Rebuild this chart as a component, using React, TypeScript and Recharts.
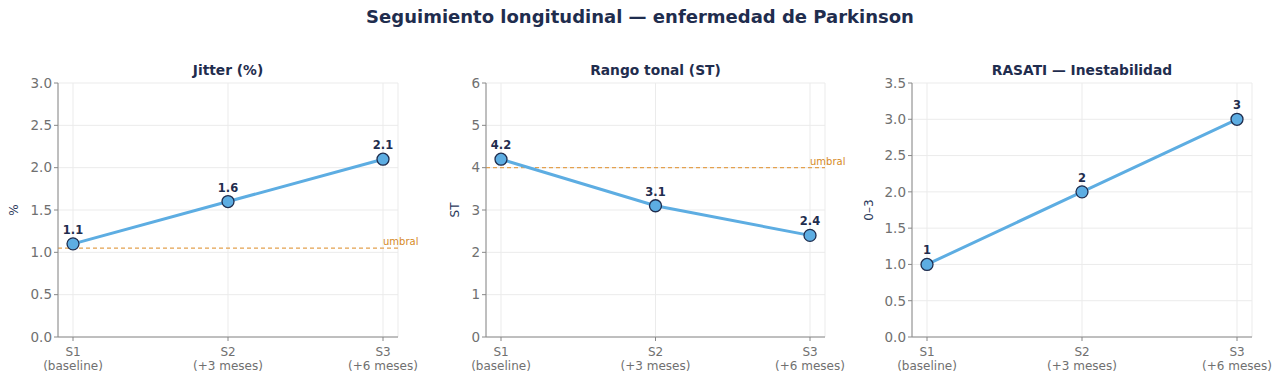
import React from 'react';
import { LineChart, Line, XAxis, YAxis, CartesianGrid, ReferenceLine, LabelList } from 'recharts';

const sessions = ['S1', 'S2', 'S3'];
const sessionNotes = ['(baseline)', '(+3 meses)', '(+6 meses)'];

const jitterValues = [1.1, 1.6, 2.1];
const rangoValues = [4.2, 3.1, 2.4];
const rasatiValues = [1, 2, 3];

const jitterTicks = [0, 0.5, 1, 1.5, 2, 2.5, 3];
const rangoTicks = [0, 1, 2, 3, 4, 5, 6];
const rasatiTicks = [0, 0.5, 1, 1.5, 2, 2.5, 3, 3.5];

const jitterUmbral = 1.05;
const rangoUmbral = 4;

const FONT = '"DejaVu Sans", Verdana, sans-serif';
const NAVY = '#1f2d4e';
const LINE = '#5dade2';
const ORANGE = '#e3a14f';

const SessionTick = (props: any) => {
  const { x, y, payload } = props;
  const i = sessions.indexOf(payload.value);
  return (
    <g transform={`translate(${x},${y})`}>
      <text textAnchor="middle" fill="#707070" fontSize={12} fontFamily={FONT}>
        <tspan x={0} dy={13}>{payload.value}</tspan>
        <tspan x={0} dy={14}>{sessionNotes[i]}</tspan>
      </text>
    </g>
  );
};

const umbralLabel = (props: any) => {
  const { viewBox } = props;
  return (
    <text
      x={viewBox.x + viewBox.width - 15}
      y={viewBox.y - 3}
      fill="#d68a1f"
      fontSize={10}
      fontFamily={FONT}
    >
      umbral
    </text>
  );
};

interface PanelProps {
  title: string;
  unit: string;
  values: number[];
  ticks: number[];
  domain: [number, number];
  decimals: number;
  umbral?: number;
  left: number;
  width: number;
  axisWidth: number;
  rightGap: number;
  labelX: number;
}

const Panel: React.FC<PanelProps> = ({ title, unit, values, ticks, domain, decimals, umbral, left, width, axisWidth, rightGap, labelX }) => {
  const data = sessions.map((s, i) => ({ session: s, value: values[i] }));
  return (
    <div style={{ position: 'absolute', left, top: 0, width, height: 380 }}>
      <div
        style={{
          position: 'absolute',
          top: 62,
          left: axisWidth,
          width: width - axisWidth - rightGap,
          textAlign: 'center',
          fontFamily: FONT,
          fontWeight: 'bold',
          fontSize: 13.8,
          color: NAVY,
        }}
      >
        {title}
      </div>
      <LineChart
        width={width}
        height={380}
        data={data}
        margin={{ top: 83, right: rightGap, bottom: 3, left: 0 }}
      >
        <CartesianGrid stroke="#ebebeb" />
        <XAxis
          dataKey="session"
          padding={{ left: 15, right: 15 }}
          height={40}
          tick={<SessionTick />}
          tickLine={{ stroke: '#888' }}
          axisLine={{ stroke: '#888' }}
          tickSize={4}
          interval={0}
        />
        <YAxis
          width={axisWidth}
          domain={domain}
          ticks={ticks}
          tickFormatter={(v: number) => v.toFixed(decimals)}
          tick={{ fill: '#707070', fontSize: 13.5, fontFamily: FONT }}
          tickLine={{ stroke: '#888' }}
          axisLine={{ stroke: '#888' }}
          tickSize={4}
          label={{
            value: unit,
            angle: -90,
            position: 'center',
            dx: labelX - axisWidth / 2,
            fill: '#2c3a5c',
            fontSize: 12,
            fontFamily: FONT,
          }}
        />
        {umbral !== undefined && (
          <ReferenceLine y={umbral} stroke={ORANGE} strokeDasharray="4 3" strokeWidth={1.2} label={umbralLabel} />
        )}
        <Line
          type="linear"
          dataKey="value"
          stroke={LINE}
          strokeWidth={3}
          dot={{ r: 6, fill: LINE, stroke: NAVY, strokeWidth: 1.3 }}
          isAnimationActive={false}
        >
          <LabelList
            dataKey="value"
            position="top"
            offset={10}
            fill={NAVY}
            fontSize={11.5}
            fontWeight="bold"
            fontFamily={FONT}
          />
        </Line>
      </LineChart>
    </div>
  );
};

export default function App() {
  return (
    <div style={{ position: 'absolute', left: 0, top: 0, width: 1280, height: 380, background: '#fff', overflow: 'hidden' }}>
      <div
        style={{
          position: 'absolute',
          top: 6,
          left: 0,
          width: 1280,
          textAlign: 'center',
          fontFamily: FONT,
          fontWeight: 'bold',
          fontSize: 18,
          color: NAVY,
        }}
      >
        Seguimiento longitudinal — enfermedad de Parkinson
      </div>
      <Panel title="Jitter (%)" unit="%" values={jitterValues} ticks={jitterTicks} domain={[0, 3]} decimals={1}
        umbral={jitterUmbral} left={0} width={430} axisWidth={58} rightGap={32} labelX={14} />
      <Panel title="Rango tonal (ST)" unit="ST" values={rangoValues} ticks={rangoTicks} domain={[0, 6]} decimals={0}
        umbral={rangoUmbral} left={430} width={430} axisWidth={56} rightGap={35} labelX={25} />
      <Panel title="RASATI — Inestabilidad" unit="0–3" values={rasatiValues} ticks={rasatiTicks} domain={[0, 3.5]} decimals={1}
        left={860} width={420} axisWidth={52} rightGap={28} labelX={9} />
    </div>
  );
}
